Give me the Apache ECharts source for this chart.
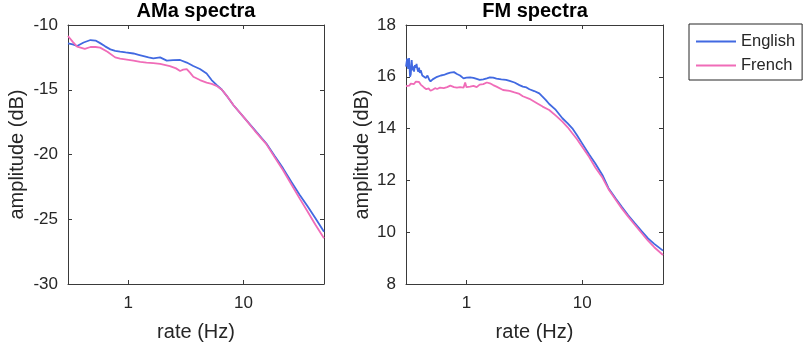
<!DOCTYPE html>
<html>
<head>
<meta charset="utf-8">
<script src="https://cdn.jsdelivr.net/npm/echarts@6/dist/echarts.min.js"></script>
<style>
html,body{margin:0;padding:0;background:#fff;}
#chart{width:811px;height:344px;}
</style>
</head>
<body>
<div id="chart"></div>
<script>
// ---- data ----
var panelTitles = ['AMa spectra', 'FM spectra'];
var seriesNames = ['English', 'French'];
var xTickLabels = ['1', '10'];
var amTicks = [-30, -25, -20, -15, -10];
var fmTicks = [8, 10, 12, 14, 16, 18];

var amEngRate = [0.30,0.33,0.36,0.41,0.47,0.52,0.57,0.63,0.70,0.77,0.85,0.95,1.11,1.23,1.36,1.5,1.65,1.89,2.16,2.45,2.82,3.22,3.67,4.19,4.79,5.29,5.84,6.5,7.13,8.2,10,12.5,15.8,18.6,22,26,30.7,36,42,50];
var amEngDb = [-11.41,-11.5,-11.62,-11.35,-11.16,-11.2,-11.4,-11.65,-11.88,-12.0,-12.06,-12.12,-12.2,-12.3,-12.4,-12.5,-12.57,-12.5,-12.75,-12.72,-12.7,-12.9,-13.17,-13.4,-13.75,-14.25,-14.63,-15.0,-15.45,-16.2,-17.1,-18.1,-19.15,-20.1,-21.05,-22.1,-23.1,-24.0,-24.9,-25.96];

var amFrRate = [0.30,0.33,0.36,0.42,0.47,0.52,0.57,0.66,0.77,0.85,0.94,1.11,1.27,1.44,1.65,1.89,2.3,2.6,2.82,3.0,3.22,3.45,3.67,4.19,4.79,5.3,5.84,6.5,7.13,8.2,10,12.5,15.8,18.6,22,26,30.7,36,42,50];
var amFrDb = [-10.85,-11.3,-11.67,-11.85,-11.7,-11.7,-11.75,-12.06,-12.5,-12.6,-12.65,-12.75,-12.85,-12.91,-12.95,-13.01,-13.17,-13.35,-13.55,-13.45,-13.4,-13.7,-14.0,-14.25,-14.45,-14.55,-14.7,-15.0,-15.45,-16.2,-17.1,-18.15,-19.2,-20.2,-21.2,-22.3,-23.39,-24.4,-25.4,-26.47];

var fmEngRate = [0.30,0.307,0.313,0.319,0.325,0.33,0.336,0.341,0.347,0.352,0.358,0.364,0.37,0.376,0.383,0.389,0.395,0.402,0.415,0.429,0.445,0.46,0.475,0.489,0.51,0.53,0.557,0.6,0.636,0.68,0.725,0.78,0.827,0.88,0.943,1.0,1.075,1.148,1.225,1.3,1.397,1.5,1.593,1.7,1.817,2.0,2.2,2.36,2.6,2.87,3.07,3.3,3.5,3.85,4.26,4.5,4.86,5.19,5.92,6.75,7.5,8.22,9.0,10,11.5,13,15,16.9,19.5,22,25,28.6,32.5,37.1,42,50];
var fmEngDb = [16.39,16.7,16.3,16.72,16.0,16.1,16.65,16.25,16.4,16.2,16.45,16.35,16.5,16.3,16.2,16.35,16.15,16.25,16.05,16.0,15.95,16.05,15.9,15.82,15.9,15.85,16.0,16.05,16.07,16.12,16.16,16.18,16.11,16.05,15.94,15.97,15.98,15.96,15.92,15.88,15.9,15.94,15.98,15.97,15.93,15.9,15.88,15.84,15.78,15.68,15.62,15.59,15.52,15.45,15.36,15.25,15.1,14.95,14.72,14.4,14.2,14.01,13.75,13.43,13.0,12.65,12.2,11.7,11.3,10.98,10.65,10.34,10.05,9.76,9.55,9.29];

var fmFrRate = [0.30,0.31,0.32,0.33,0.341,0.352,0.364,0.376,0.389,0.402,0.415,0.429,0.45,0.47,0.489,0.51,0.535,0.557,0.59,0.636,0.68,0.725,0.78,0.827,0.88,0.943,0.974,1.0,1.075,1.15,1.225,1.3,1.397,1.5,1.593,1.7,1.817,2.07,2.36,2.6,2.87,3.07,3.5,4.0,4.55,5.19,5.92,6.75,7.5,8.22,9.0,10,11.5,13,15,16.9,19.5,22,25,28.6,32.5,37.1,42,50];
var fmFrDb = [15.64,15.7,15.66,15.74,15.78,15.72,15.81,15.75,15.8,15.7,15.65,15.59,15.52,15.55,15.46,15.5,15.56,15.53,15.58,15.56,15.6,15.66,15.6,15.58,15.6,15.58,15.78,15.6,15.62,15.65,15.6,15.7,15.72,15.78,15.75,15.68,15.62,15.49,15.46,15.4,15.34,15.25,15.15,15.0,14.85,14.72,14.5,14.27,14.05,13.82,13.6,13.3,12.9,12.5,12.1,11.66,11.25,10.92,10.6,10.28,9.98,9.67,9.42,9.12];

// ---- styles ----
var FONT = '"Liberation Sans", Arial, Helvetica, sans-serif';
var TXT = '#262626';
var AXC = '#3a3a3a';
var BLUE = '#4169e1';
var PINK = '#f06cb8';

function pairs(xs, ys) { return xs.map(function (x, i) { return [x, ys[i]]; }); }

function xAx(grid, pos, showLab) {
  return {
    gridIndex: grid, type: 'log', logBase: 10, min: 0.3, max: 50, position: pos,
    name: showLab ? 'rate (Hz)' : '', nameLocation: 'middle', nameGap: 38,
    nameTextStyle: { fontFamily: FONT, fontSize: 20, color: TXT },
    axisLine: { show: true, onZero: false, lineStyle: { color: AXC, width: 1 } },
    axisTick: { show: true, inside: true, length: 4, lineStyle: { color: AXC } },
    minorTick: { show: false },
    axisLabel: {
      show: showLab, margin: 11, fontFamily: FONT, fontSize: 17, color: TXT,
      showMinLabel: false, showMaxLabel: false,
      formatter: function (v) {
        var s = String(Math.round(v * 1000) / 1000);
        return xTickLabels.indexOf(s) >= 0 ? s : '';
      }
    },
    splitLine: { show: false }
  };
}
function yAx(grid, pos, showLab, min, max, interval, gap) {
  return {
    gridIndex: grid, type: 'value', min: min, max: max, interval: interval, position: pos,
    name: showLab ? 'amplitude (dB)' : '', nameLocation: 'middle', nameGap: gap,
    nameTextStyle: { fontFamily: FONT, fontSize: 20, color: TXT },
    axisLine: { show: true, onZero: false, lineStyle: { color: AXC, width: 1 } },
    axisTick: { show: true, inside: true, length: 4, lineStyle: { color: AXC } },
    axisLabel: { show: showLab, margin: 10, fontFamily: FONT, fontSize: 17, color: TXT },
    splitLine: { show: false }
  };
}

var chart = echarts.init(document.getElementById('chart'), null, { renderer: 'canvas' });
chart.setOption({
  animation: false,
  backgroundColor: '#fff',
  title: [
    { text: panelTitles[0], left: 196, top: 1, textAlign: 'center', padding: 0,
      textStyle: { fontFamily: FONT, fontSize: 20, fontWeight: 'bold', color: '#000' } },
    { text: panelTitles[1], left: 535, top: 1, textAlign: 'center', padding: 0,
      textStyle: { fontFamily: FONT, fontSize: 20, fontWeight: 'bold', color: '#000' } }
  ],
  legend: {
    data: seriesNames, orient: 'vertical', left: 689, top: 24,
    padding: [9, 7, 6, 7], itemGap: 7, itemWidth: 40, itemHeight: 2, icon: 'rect',
    borderColor: '#262626', borderWidth: 1, backgroundColor: '#fff',
    textStyle: { fontFamily: FONT, fontSize: 16.5, color: TXT }
  },
  grid: [
    { left: 68, top: 25, width: 256, height: 259, containLabel: false, outerBoundsMode: 'none' },
    { left: 406, top: 25, width: 257, height: 259, containLabel: false, outerBoundsMode: 'none' }
  ],
  xAxis: [xAx(0, 'bottom', true), xAx(1, 'bottom', true), xAx(0, 'top', false), xAx(1, 'top', false)],
  yAxis: [
    yAx(0, 'left', true, amTicks[0], amTicks[amTicks.length - 1], 5, 41),
    yAx(1, 'left', true, fmTicks[0], fmTicks[fmTicks.length - 1], 2, 34),
    yAx(0, 'right', false, amTicks[0], amTicks[amTicks.length - 1], 5, 0),
    yAx(1, 'right', false, fmTicks[0], fmTicks[fmTicks.length - 1], 2, 0)
  ],
  series: [
    { name: seriesNames[0], type: 'line', xAxisIndex: 0, yAxisIndex: 0, showSymbol: false, symbol: 'none',
      data: pairs(amEngRate, amEngDb), lineStyle: { color: BLUE, width: 1.8 }, itemStyle: { color: BLUE } },
    { name: seriesNames[1], type: 'line', xAxisIndex: 0, yAxisIndex: 0, showSymbol: false, symbol: 'none',
      data: pairs(amFrRate, amFrDb), lineStyle: { color: PINK, width: 1.8 }, itemStyle: { color: PINK } },
    { name: seriesNames[0], type: 'line', xAxisIndex: 1, yAxisIndex: 1, showSymbol: false, symbol: 'none',
      data: pairs(fmEngRate, fmEngDb), lineStyle: { color: BLUE, width: 1.8 }, itemStyle: { color: BLUE } },
    { name: seriesNames[1], type: 'line', xAxisIndex: 1, yAxisIndex: 1, showSymbol: false, symbol: 'none',
      data: pairs(fmFrRate, fmFrDb), lineStyle: { color: PINK, width: 1.8 }, itemStyle: { color: PINK } }
  ]
});
</script>
</body>
</html>
